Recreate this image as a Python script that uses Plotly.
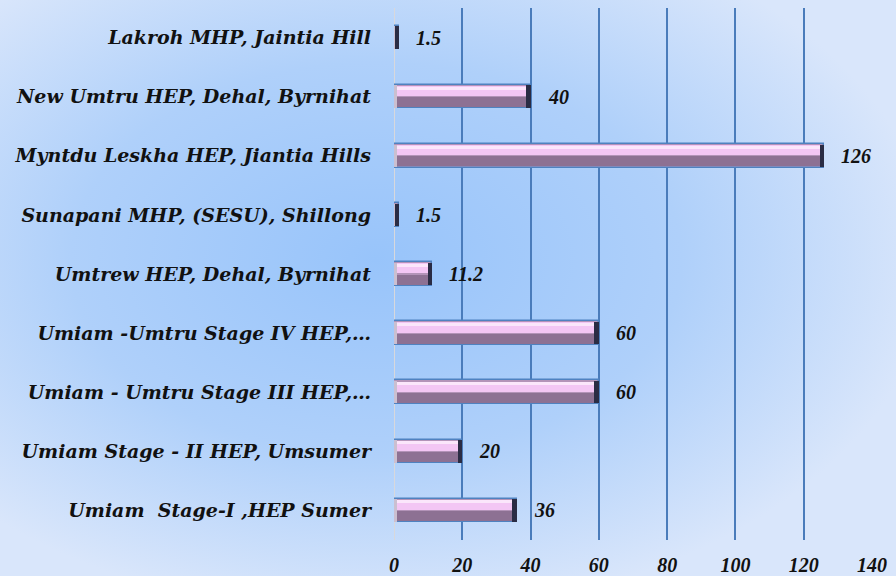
import base64
import plotly.graph_objects as go

categories = [
    "Umiam  Stage-I ,HEP Sumer",
    "Umiam Stage - II HEP, Umsumer",
    "Umiam - Umtru Stage III HEP,…",
    "Umiam -Umtru Stage IV HEP,…",
    "Umtrew HEP, Dehal, Byrnihat",
    "Sunapani MHP, (SESU), Shillong",
    "Myntdu Leskha HEP, Jiantia Hills",
    "New Umtru HEP, Dehal, Byrnihat",
    "Lakroh MHP, Jaintia Hill",
]
values = [36, 20, 60, 60, 11.2, 1.5, 126, 40, 1.5]
value_labels = ["36", "20", "60", "60", "11.2", "1.5", "126", "40", "1.5"]
x_ticks = [0, 20, 40, 60, 80, 100, 120, 140]

W, H = 896, 576
ML, MR, MT, MB = 394, 24, 8, 36
PW, PH = W - ML - MR, H - MT - MB

CAT_FONT = dict(family="DejaVu Serif", size=19, color="#111111", style="italic", weight="bold")
NUM_FONT = dict(family="Liberation Serif", size=20, color="#111111", style="italic", weight="bold")

svg = f'''<svg xmlns="http://www.w3.org/2000/svg" width="{W}" height="{H}" viewBox="0 0 {W} {H}" preserveAspectRatio="none">
<defs><radialGradient id="g" cx="0.42" cy="0.45" r="0.62" gradientUnits="objectBoundingBox">
<stop offset="0" stop-color="#98c4fa"/><stop offset="0.55" stop-color="#afd0fa"/><stop offset="1" stop-color="#d9e6fb"/>
</radialGradient></defs><rect width="{W}" height="{H}" fill="url(#g)"/></svg>'''
bg_uri = "data:image/svg+xml;base64," + base64.b64encode(svg.encode()).decode()

fig = go.Figure()
BW = 0.4
fig.add_trace(go.Bar(y=categories, x=values, orientation="h", width=BW, offset=-BW / 2,
                     marker=dict(color="#b393b8", line=dict(color="#4f82c0", width=1.5)),
                     hoverinfo="skip", showlegend=False))
fig.add_trace(go.Bar(y=categories, x=values, orientation="h", width=0.17, offset=0.01,
                     marker=dict(color="#f3c6f4", line=dict(width=0)), hoverinfo="skip", showlegend=False))
fig.add_trace(go.Bar(y=categories, x=values, orientation="h", width=0.05, offset=0.12,
                     marker=dict(color="#fbe6fb", line=dict(width=0)), hoverinfo="skip", showlegend=False))
fig.add_trace(go.Bar(y=categories, x=values, orientation="h", width=0.17, offset=-0.18,
                     marker=dict(color="#8d7193", line=dict(width=0)), hoverinfo="skip", showlegend=False))
left = [min(1.0, v) for v in values]
fig.add_trace(go.Bar(y=categories, x=left, orientation="h", width=BW - 0.02, offset=-(BW - 0.02) / 2,
                     marker=dict(color="#cbbfd0", line=dict(width=0)), hoverinfo="skip", showlegend=False))
cap = [min(1.3, v) for v in values]
fig.add_trace(go.Bar(y=categories, x=cap, base=[v - c for v, c in zip(values, cap)], orientation="h",
                     width=BW - 0.02, offset=-(BW - 0.02) / 2,
                     marker=dict(color="#2a2c44", line=dict(width=0)), hoverinfo="skip", showlegend=False))

for c, v, t in zip(categories, values, value_labels):
    fig.add_annotation(x=v, y=c, text=t, showarrow=False, xanchor="left", xshift=15, font=NUM_FONT)

fig.add_layout_image(dict(source=bg_uri, xref="paper", yref="paper", x=-ML / PW, y=1 + MT / PH,
                          sizex=W / PW, sizey=H / PH, sizing="stretch", xanchor="left", yanchor="top",
                          layer="below"))

fig.update_layout(
    width=W, height=H, margin=dict(l=ML, r=MR, t=MT, b=MB, autoexpand=False),
    paper_bgcolor="#bcd6fa", plot_bgcolor="rgba(0,0,0,0)",
    barmode="overlay", bargap=0, font=NUM_FONT,
    xaxis=dict(range=[0, 140], tickvals=x_ticks, ticktext=[str(t) for t in x_ticks],
               showgrid=True, gridcolor="#4a7cbb", gridwidth=1.5, zeroline=False, automargin=False,
               showline=False, ticks="", tickfont=NUM_FONT, ticklabelstandoff=11, fixedrange=True),
    yaxis=dict(type="category", categoryorder="array", categoryarray=categories, automargin=False,
               range=[-0.5, len(categories) - 0.5], showgrid=False, zeroline=False,
               showline=False, ticks="", tickfont=CAT_FONT, ticklabelstandoff=22, fixedrange=True),
)
fig.add_shape(type="line", xref="x", yref="paper", x0=0, x1=0, y0=0, y1=1,
              line=dict(color="#d8d8dc", width=2), layer="below")

fig.write_html("out.html", config={"displayModeBar": False},
               post_script="document.body.style.margin='0';")
